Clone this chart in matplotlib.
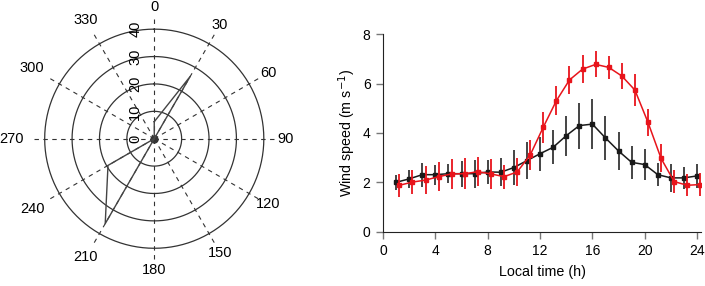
import numpy as np
import matplotlib
matplotlib.use("Agg")
import matplotlib.pyplot as plt
import matplotlib.transforms as mtransforms

plt.rcParams['font.family'] = ['Liberation Sans', 'DejaVu Sans']

# ---- Polar (wind direction) data ----
dir_deg = [0, 30, 60, 90, 120, 150, 180, 210, 240, 270, 300, 330]
dir_freq = [6.2, 26.3, 0, 0, 0, 0, 0, 35.8, 19.5, 0, 0, 0]
ring_values = [10, 20, 30, 40]
rlabel_values = [0, 10, 20, 30, 40]
angle_labels = [0, 30, 60, 90, 120, 150, 180, 210, 240, 270, 300, 330]

# ---- Diurnal wind speed data ----
hours_black = [1, 2, 3, 4, 5, 6, 7, 8, 9, 10, 11, 12, 13, 14, 15, 16, 17, 18, 19, 20, 21, 22, 23, 24]
speed_black = [2.0, 2.14, 2.31, 2.31, 2.35, 2.35, 2.35, 2.42, 2.41, 2.6, 2.88, 3.16,
               3.42, 3.89, 4.3, 4.36, 3.8, 3.27, 2.81, 2.72, 2.31, 2.18, 2.18, 2.26]
err_black = [0.3, 0.36, 0.49, 0.4, 0.39, 0.53, 0.57, 0.5, 0.56, 0.7, 0.76, 0.69,
             0.69, 0.81, 0.93, 1.0, 0.89, 0.78, 0.67, 0.62, 0.47, 0.56, 0.45, 0.47]

hours_red = [1.25, 2.25, 3.25, 4.25, 5.25, 6.25, 7.25, 8.25, 9.25, 10.25, 11.25, 12.25,
             13.25, 14.25, 15.25, 16.25, 17.25, 18.25, 19.25, 20.25, 21.25, 22.25, 23.25, 24.25]
speed_red = [1.88, 2.01, 2.09, 2.23, 2.34, 2.35, 2.43, 2.34, 2.23, 2.42, 3.11, 4.24,
             5.31, 6.15, 6.59, 6.78, 6.66, 6.31, 5.74, 4.43, 2.97, 2.03, 1.88, 1.91]
err_red = [0.47, 0.5, 0.57, 0.6, 0.6, 0.63, 0.58, 0.61, 0.49, 0.56, 0.62, 0.63,
           0.59, 0.56, 0.57, 0.53, 0.47, 0.52, 0.64, 0.54, 0.57, 0.47, 0.45, 0.46]

fig = plt.figure(figsize=(7.05, 2.86), dpi=100)

# ---------- Polar panel ----------
axp = fig.add_axes([0.0323, 0.0552, 0.373, 0.9196], projection='polar')
axp.set_theta_zero_location('N')
axp.set_theta_direction(-1)
axp.set_ylim(0, 48)
axp.grid(False)
axp.set_xticks([])
axp.set_yticks([])
axp.spines['polar'].set_visible(False)
axp.patch.set_visible(False)

th_full = np.linspace(0, 2 * np.pi, 361)
for rv in ring_values:
    axp.plot(th_full, np.full_like(th_full, rv), color='#333333', lw=0.9, clip_on=False)
for a in angle_labels:
    t = np.deg2rad(a)
    axp.plot([t, t], [0, 44.5], color='#333333', lw=0.8, ls=(0, (4, 4)), clip_on=False)
    r_lab = 48 + 4 * max(0.0, -np.sin(t))
    axp.text(t, r_lab, str(a), ha='center', va='center', fontsize=10.5, clip_on=False)

axp.plot([0], [0], marker='o', ms=5, color='#333333')

th = np.deg2rad(dir_deg + [dir_deg[0]])
rr = dir_freq + [dir_freq[0]]
axp.plot(th, rr, color='#444444', lw=1.0, clip_on=False)

offs = mtransforms.offset_copy(axp.transData, fig=fig, x=-19, y=0, units='dots')
for rv in rlabel_values:
    axp.text(0, rv, str(rv), transform=offs, rotation=90, ha='center', va='center',
             fontsize=10.5)

# ---------- Diurnal panel ----------
ax = fig.add_axes([0.5433, 0.19, 0.451, 0.690])
ax.errorbar(hours_black, speed_black, yerr=err_black, color='#1a1a1a', ecolor='#444444',
            elinewidth=1.4, lw=1.1, marker='s', ms=3.2, capsize=0, zorder=2)
ax.errorbar(hours_red, speed_red, yerr=err_red, color='#e8141b', ecolor='#e8141b',
            elinewidth=1.3, lw=1.1, marker='s', ms=3.2, capsize=0, zorder=3)
ax.set_xlim(0, 24.3)
ax.set_ylim(0, 8)
ax.set_xticks([0, 4, 8, 12, 16, 20, 24])
ax.set_yticks([0, 2, 4, 6, 8])
ax.spines['top'].set_visible(False)
ax.spines['right'].set_visible(False)
ax.spines['left'].set_color('#222222')
ax.spines['bottom'].set_color('#222222')
ax.tick_params(direction='out', length=5, width=1.0, color='#777777', labelsize=10, pad=4)
ax.set_xlabel('Local time (h)', fontsize=10.3, labelpad=5)
ax.set_ylabel('Wind speed (m s$^{-1}$)', fontsize=10.3, labelpad=3)

fig.savefig('out.png', dpi=100)
